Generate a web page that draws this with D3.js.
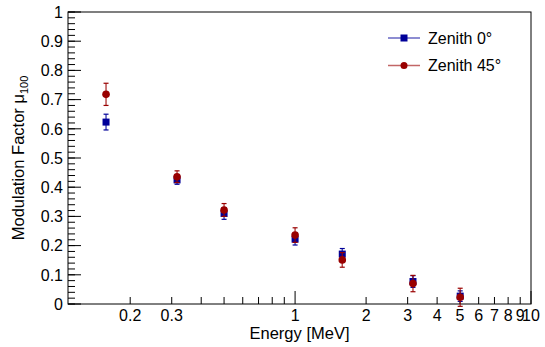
<!DOCTYPE html>
<html>
<head>
<meta charset="utf-8">
<script src="https://cdn.jsdelivr.net/npm/d3@7"></script>
<style>
  body { margin: 0; background: #fff; }
  text { font-family: "Liberation Sans", Arial, sans-serif; fill: #000; }
</style>
</head>
<body>
<svg width="545" height="347"></svg>
<script>
// data
const energy = [0.158, 0.316, 0.5, 1.0, 1.585, 3.16, 5.01];
const mu0 = [0.623, 0.425, 0.310, 0.222, 0.171, 0.077, 0.027];
const err0 = [0.027, 0.015, 0.020, 0.020, 0.019, 0.020, 0.018];
const mu45 = [0.718, 0.436, 0.322, 0.236, 0.151, 0.070, 0.023];
const err45 = [0.038, 0.020, 0.022, 0.025, 0.025, 0.028, 0.031];
const xTickLabels = [0.2, 0.3, 1, 2, 3, 4, 5, 6, 7, 8, 9, 10];
const seriesNames = ["Zenith 0\u00b0", "Zenith 45\u00b0"];

const margin = { top: 12, right: 14, bottom: 43, left: 68 };
const width = 545 - margin.left - margin.right;
const height = 347 - margin.top - margin.bottom;

const svg = d3.select("svg");
const g = svg.append("g")
    .attr("transform", "translate(" + margin.left + "," + margin.top + ")");

const x = d3.scaleLog().domain([0.109, 10]).range([0, width]);
const y = d3.scaleLinear().domain([0, 1]).range([height, 0]);

// frame
g.append("rect")
    .attr("width", width).attr("height", height)
    .attr("fill", "none").attr("stroke", "#000").attr("stroke-width", 1);

// y ticks
const yMajor = d3.range(0, 11).map(d => d / 10);
const yMinor = d3.range(0, 51).map(d => d / 50);
g.selectAll(".yminor").data(yMinor).enter().append("line")
    .attr("x1", 0).attr("x2", 7)
    .attr("y1", d => y(d)).attr("y2", d => y(d))
    .attr("stroke", "#000");
g.selectAll(".ymajor").data(yMajor).enter().append("line")
    .attr("x1", 0).attr("x2", 13)
    .attr("y1", d => y(d)).attr("y2", d => y(d))
    .attr("stroke", "#000");
g.selectAll(".ylab").data(yMajor).enter().append("text")
    .attr("x", -5).attr("y", d => y(d))
    .attr("dy", "0.36em")
    .attr("text-anchor", "end")
    .style("font-size", "16px")
    .text(d => d3.format("~g")(d));

// x ticks (log)
const xMinor = [0.2, 0.3, 0.4, 0.5, 0.6, 0.7, 0.8, 0.9, 2, 3, 4, 5, 6, 7, 8, 9];
const xMajor = [1, 10];
g.selectAll(".xminor").data(xMinor).enter().append("line")
    .attr("x1", d => x(d)).attr("x2", d => x(d))
    .attr("y1", height).attr("y2", height - 7)
    .attr("stroke", "#000");
g.selectAll(".xmajor").data(xMajor).enter().append("line")
    .attr("x1", d => x(d)).attr("x2", d => x(d))
    .attr("y1", height).attr("y2", height - 13)
    .attr("stroke", "#000");
g.selectAll(".xlab").data(xTickLabels).enter().append("text")
    .attr("x", d => x(d)).attr("y", height + 17)
    .attr("text-anchor", "middle")
    .style("font-size", "16px")
    .text(d => d);

// axis titles
g.append("text")
    .attr("x", width / 2).attr("y", height + 35)
    .attr("text-anchor", "middle")
    .style("font-size", "16.5px")
    .text("Energy [MeV]");

const yt = svg.append("text")
    .attr("transform", "translate(24," + (margin.top + height / 2) + ") rotate(-90)")
    .attr("text-anchor", "middle")
    .style("font-size", "16.5px");
yt.append("tspan").text("Modulation Factor \u03bc");
yt.append("tspan").attr("dy", 4).style("font-size", "11px").text("100");

// series
const series = [
    { name: seriesNames[0], vals: mu0, errs: err0, color: "#000099", shape: "square" },
    { name: seriesNames[1], vals: mu45, errs: err45, color: "#990000", shape: "circle" }
];

series.forEach(s => {
    const pts = energy.map((e, i) => ({ e: e, v: s.vals[i], er: s.errs[i] }));
    const grp = g.append("g");
    grp.selectAll(".eb").data(pts).enter().append("line")
        .attr("x1", d => x(d.e)).attr("x2", d => x(d.e))
        .attr("y1", d => y(d.v - d.er)).attr("y2", d => y(d.v + d.er))
        .attr("stroke", s.color).attr("stroke-opacity", 0.7).attr("stroke-width", 1.5);
    ["lo", "hi"].forEach(k => {
        grp.selectAll(".cap" + k).data(pts).enter().append("line")
            .attr("x1", d => x(d.e) - 2.5).attr("x2", d => x(d.e) + 2.5)
            .attr("y1", d => y(k === "lo" ? d.v - d.er : d.v + d.er))
            .attr("y2", d => y(k === "lo" ? d.v - d.er : d.v + d.er))
            .attr("stroke", s.color).attr("stroke-width", 1.2);
    });
    if (s.shape === "square") {
        grp.selectAll(".m").data(pts).enter().append("rect")
            .attr("x", d => x(d.e) - 3.5).attr("y", d => y(d.v) - 3.5)
            .attr("width", 7).attr("height", 7)
            .attr("fill", s.color);
    } else {
        grp.selectAll(".m").data(pts).enter().append("circle")
            .attr("cx", d => x(d.e)).attr("cy", d => y(d.v))
            .attr("r", 3.8)
            .attr("fill", s.color);
    }
});

// legend
const legend = svg.append("g");
series.forEach((s, i) => {
    const ly = 38 + i * 27.5;
    legend.append("line")
        .attr("x1", 388).attr("x2", 420).attr("y1", ly).attr("y2", ly)
        .attr("stroke", s.color).attr("stroke-opacity", 0.6).attr("stroke-width", 1.5);
    if (s.shape === "square") {
        legend.append("rect").attr("x", 400.5).attr("y", ly - 3.5)
            .attr("width", 7).attr("height", 7).attr("fill", s.color);
    } else {
        legend.append("circle").attr("cx", 404).attr("cy", ly).attr("r", 3.5)
            .attr("fill", s.color);
    }
    legend.append("text")
        .attr("x", 428).attr("y", ly).attr("dy", "0.36em")
        .style("font-size", "16px")
        .text(s.name);
});
</script>
</body>
</html>
